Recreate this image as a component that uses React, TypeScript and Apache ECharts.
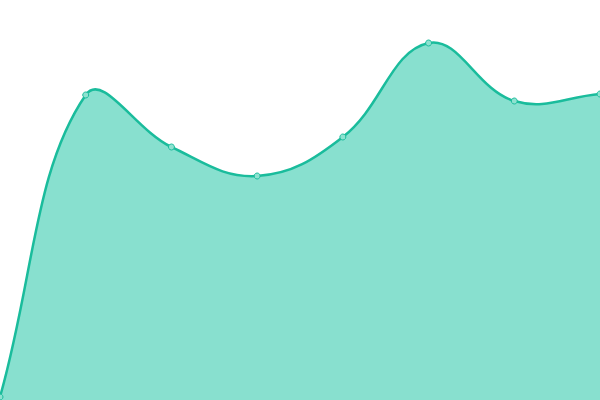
import React, { useEffect, useRef } from "react";
import * as echarts from "echarts";

const categories = ["A", "B", "C", "D", "E", "F", "G", "H"];
const values = [3, 305, 253, 224, 263, 357, 299, 306];
const yMin = 0;
const yMax = 400;
const tension = 0.4;

type Pt = [number, number];

function controlPoints(pts: Pt[]) {
  const res: { prev: Pt; next: Pt }[] = [];
  for (let i = 0; i < pts.length; i++) {
    const cur = pts[i];
    const prev = i > 0 ? pts[i - 1] : cur;
    const next = i < pts.length - 1 ? pts[i + 1] : cur;
    const d01 = Math.hypot(cur[0] - prev[0], cur[1] - prev[1]);
    const d12 = Math.hypot(next[0] - cur[0], next[1] - cur[1]);
    let s01 = d01 / (d01 + d12);
    let s12 = d12 / (d01 + d12);
    if (!isFinite(s01)) s01 = 0;
    if (!isFinite(s12)) s12 = 0;
    const fa = tension * s01;
    const fb = tension * s12;
    res.push({
      prev: [cur[0] - fa * (next[0] - prev[0]), cur[1] - fa * (next[1] - prev[1])],
      next: [cur[0] + fb * (next[0] - prev[0]), cur[1] + fb * (next[1] - prev[1])],
    });
  }
  return res;
}

function curvePath(pts: Pt[]) {
  const cp = controlPoints(pts);
  let d = `M${pts[0][0]},${pts[0][1]}`;
  for (let i = 1; i < pts.length; i++) {
    const a = cp[i - 1].next;
    const b = cp[i].prev;
    d += ` C${a[0]},${a[1]} ${b[0]},${b[1]} ${pts[i][0]},${pts[i][1]}`;
  }
  return d;
}

export default function App() {
  const ref = useRef<HTMLDivElement>(null);
  useEffect(() => {
    if (!ref.current) return;
    const chart = echarts.init(ref.current, undefined, { renderer: "svg" });
    chart.setOption({
      animation: false,
      grid: { left: 0, right: 0, top: 0, bottom: 0 },
      xAxis: {
        type: "category",
        data: categories,
        boundaryGap: false,
        show: false,
      },
      yAxis: { type: "value", min: yMin, max: yMax, show: false },
      series: [
        {
          type: "custom",
          data: values.map((v, i) => [i, v]),
          clip: false,
          renderItem: (params: any, api: any) => {
            const idx = params.dataIndex;
            const p = api.coord([api.value(0), api.value(1)]);
            const circle = {
              type: "circle",
              z2: 10,
              shape: { cx: p[0], cy: p[1], r: 3 },
              style: { fill: "#8ee2d0", stroke: "#1abc9c", lineWidth: 1 },
            };
            if (idx !== 0) return circle;
            const pts: Pt[] = values.map((v, i) => api.coord([i, v]) as Pt);
            const base = api.coord([0, yMin])[1];
            const line = curvePath(pts);
            const area =
              line +
              ` L${pts[pts.length - 1][0]},${base} L${pts[0][0]},${base} Z`;
            return {
              type: "group",
              children: [
                {
                  type: "path",
                  z2: 1,
                  shape: { pathData: area },
                  style: { fill: "#88e0cf", stroke: "none" },
                },
                {
                  type: "path",
                  z2: 2,
                  shape: { pathData: line },
                  style: { fill: "none", stroke: "#1abc9c", lineWidth: 2.5 },
                },
                circle,
              ],
            };
          },
        },
      ],
    });
    return () => chart.dispose();
  }, []);
  return (
    <div
      ref={ref}
      style={{ position: "fixed", left: 0, top: 0, width: 600, height: 400 }}
    />
  );
}
